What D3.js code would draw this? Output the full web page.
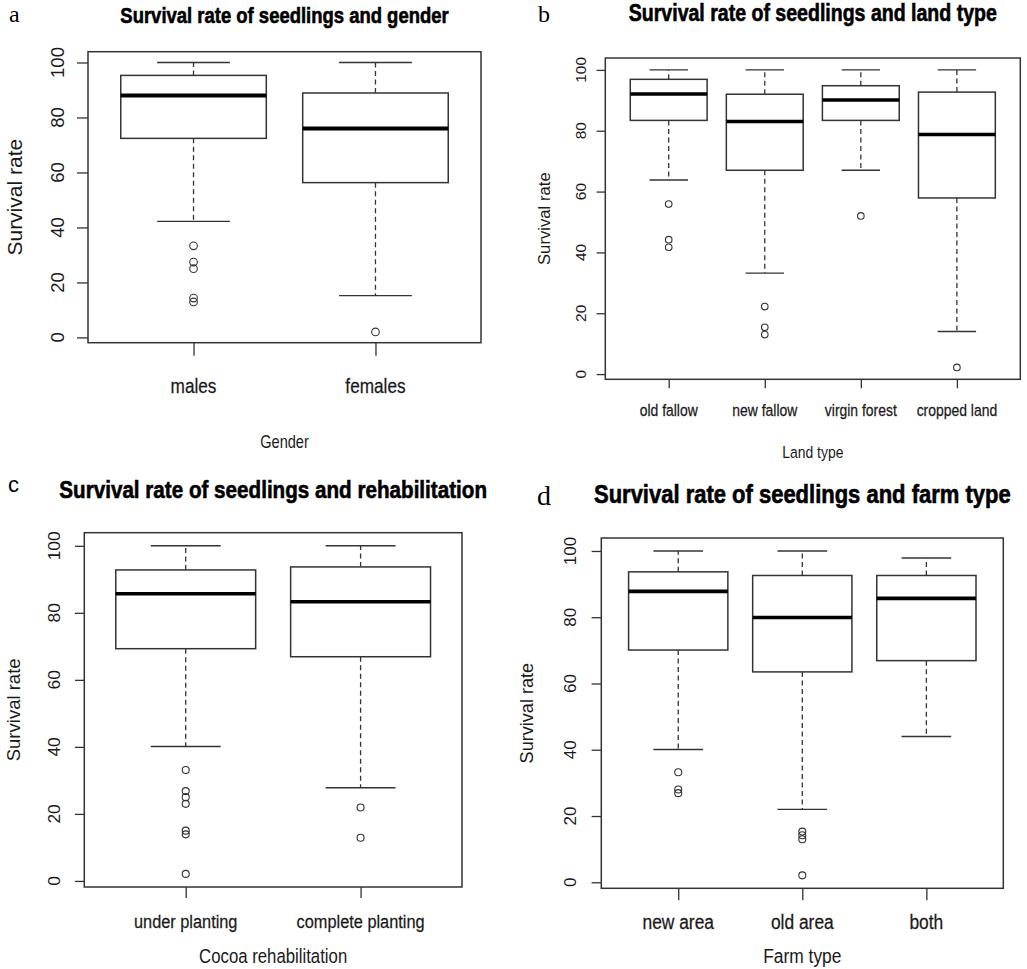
<!DOCTYPE html>
<html>
<head>
<meta charset="utf-8">
<script src="https://cdn.jsdelivr.net/npm/d3@7"></script>
<style>
  body { margin: 0; background: #fff; }
  svg { display: block; }
  text { font-family: "Liberation Sans", Arial, sans-serif; fill: #1a1a1a; }
</style>
</head>
<body>
<div id="chart"></div>
<script>
// box stats per group: [lower whisker, Q1, median, Q3, upper whisker]
const genderCats = ["males", "females"];
const genderStats = [[42.2, 72.4, 88, 95.3, 100], [15.2, 56.3, 76, 88.9, 100]];
const genderOutliers = [[33.3, 27.4, 25, 14.3, 12.9], [2]];

const landCats = ["old fallow", "new fallow", "virgin forest", "cropped land"];
const landStats = [
  [63.8, 83.4, 92.1, 96.9, 100],
  [33.2, 67, 83, 92, 100],
  [67, 83.4, 90.1, 94.8, 100],
  [14, 57.9, 78.8, 92.7, 100]
];
const landOutliers = [[55.9, 44.2, 41.7], [22.2, 15.4, 13], [52], [2.2]];

const rehabCats = ["under planting", "complete planting"];
const rehabStats = [[40.1, 69.3, 85.7, 92.8, 100], [27.8, 66.9, 83.3, 93.7, 100]];
const rehabOutliers = [[33.1, 26.8, 25, 23, 15, 13.9, 2.1], [21.9, 12.9]];

const farmCats = ["new area", "old area", "both"];
const farmStats = [
  [40.1, 70.1, 87.8, 93.7, 100],
  [22, 63.5, 79.9, 92.6, 100],
  [44, 66.9, 85.7, 92.6, 97.9]
];
const farmOutliers = [[33.2, 28, 26.9], [15.3, 14.2, 13, 2.1], []];

const yTicks = [0, 20, 40, 60, 80, 100];

// layout of the four panels
const panels = [
  {
    letter: "a", letterPos: [9, 22], letterSize: 24, letterFont: "Liberation Serif",
    title: "Survival rate of seedlings and gender", titleY: 22.5, titleSize: 22, titleSx: 0.84,
    xTitle: "Gender", xTitleY: 448, xTitleSize: 18, xTitleSx: 0.81,
    cats: genderCats, stats: genderStats, outliers: genderOutliers,
    frame: { x0: 88, x1: 481, y0: 51.7, y1: 342.7 },
    yTickLen: 11, xTickLen: 13, yLabX: 63.5, yLabSize: 18.5,
    yTitleX: 21.7, yTitleSize: 21, xLabY: 393, xLabSize: 21, xLabSx: 0.82,
    r: 3.8, medW: 4
  },
  {
    letter: "b", letterPos: [538, 22], letterSize: 24, letterFont: "Liberation Serif",
    title: "Survival rate of seedlings and land type", titleY: 20.5, titleSize: 23, titleSx: 0.85,
    xTitle: "Land type", xTitleY: 458, xTitleSize: 17, xTitleSx: 0.82,
    cats: landCats, stats: landStats, outliers: landOutliers,
    frame: { x0: 605.3, x1: 1020.3, y0: 58, y1: 379.3 },
    yTickLen: 8.7, xTickLen: 9, yLabX: 586, yLabSize: 15.5,
    yTitleX: 550, yTitleSize: 16.7, xLabY: 416, xLabSize: 17, xLabSx: 0.82,
    r: 3.3, medW: 3.5
  },
  {
    letter: "c", letterPos: [8, 492], letterSize: 22, letterFont: "Liberation Sans",
    title: "Survival rate of seedlings and rehabilitation", titleY: 498, titleSize: 24, titleSx: 0.86,
    xTitle: "Cocoa rehabilitation", xTitleY: 962.5, xTitleSize: 19.5, xTitleSx: 0.86,
    cats: rehabCats, stats: rehabStats, outliers: rehabOutliers,
    frame: { x0: 84.3, x1: 462, y0: 532.7, y1: 887 },
    yTickLen: 9.3, xTickLen: 11, yLabX: 60, yLabSize: 17.4,
    yTitleX: 20, yTitleSize: 18.5, xLabY: 928, xLabSize: 19, xLabSx: 0.86,
    r: 3.5, medW: 3.6
  },
  {
    letter: "d", letterPos: [537, 505], letterSize: 28, letterFont: "Liberation Serif",
    title: "Survival rate of seedlings and farm type", titleY: 503, titleSize: 25, titleSx: 0.88,
    xTitle: "Farm type", xTitleY: 962.5, xTitleSize: 20, xTitleSx: 0.87,
    cats: farmCats, stats: farmStats, outliers: farmOutliers,
    frame: { x0: 601.3, x1: 1003.3, y0: 538, y1: 888.3 },
    yTickLen: 9.7, xTickLen: 12, yLabX: 576, yLabSize: 17,
    yTitleX: 533, yTitleSize: 18.1, xLabY: 929, xLabSize: 20, xLabSx: 0.87,
    r: 3.5, medW: 3.6
  }
];

const lineColor = "#333";

const svg = d3.select("#chart")
  .append("svg")
  .attr("width", 1027)
  .attr("height", 969);

svg.append("rect")
  .attr("width", 1027)
  .attr("height", 969)
  .attr("fill", "#fff");

// horizontal text, squeezed sideways like the source
function hText(g, x, y, str, size, sx) {
  return g.append("text")
    .attr("transform", `translate(${x},${y}) scale(${sx},1)`)
    .attr("text-anchor", "middle")
    .style("font-size", size + "px")
    .text(str);
}

function vText(g, x, y, str, size) {
  return g.append("text")
    .attr("transform", `translate(${x},${y}) rotate(-90)`)
    .attr("text-anchor", "middle")
    .style("font-size", size + "px")
    .text(str);
}

function drawPanel(p) {
  const g = svg.append("g");
  const n = p.cats.length;
  const f = p.frame;

  // R style ranges: 4% extension on both axes
  const x = d3.scaleLinear()
    .domain([0.5 - 0.04 * n, n + 0.5 + 0.04 * n])
    .range([f.x0, f.x1]);

  const lo = d3.min(p.stats.map((s, i) => d3.min([s[0], ...p.outliers[i]])));
  const hi = d3.max(p.stats, s => s[4]);
  const pad = 0.04 * (hi - lo);
  const y = d3.scaleLinear()
    .domain([lo - pad, hi + pad])
    .range([f.y1, f.y0]);

  // axes (ticks only, labels added by hand below)
  const yAxis = g.append("g")
    .attr("transform", `translate(${f.x0},0)`)
    .call(d3.axisLeft(y).tickValues(yTicks).tickSize(p.yTickLen).tickFormat(""));
  yAxis.select(".domain").remove();
  yAxis.selectAll("line").attr("stroke", lineColor).attr("stroke-width", 1.3);

  const xAxis = g.append("g")
    .attr("transform", `translate(0,${f.y1})`)
    .call(d3.axisBottom(x).tickValues(d3.range(1, n + 1)).tickSize(p.xTickLen).tickFormat(""));
  xAxis.select(".domain").remove();
  xAxis.selectAll("line").attr("stroke", lineColor).attr("stroke-width", 1.3);

  yTicks.forEach(t => vText(g, p.yLabX, y(t), t, p.yLabSize));
  p.cats.forEach((c, i) => {
    hText(g, x(i + 1), p.xLabY, c, p.xLabSize, p.xLabSx)
      .attr("stroke", "#1a1a1a")
      .attr("stroke-width", 0.25);
  });

  // boxes
  const grp = g.selectAll(".grp")
    .data(p.stats)
    .enter()
    .append("g")
    .attr("class", "grp");

  // dashed whiskers
  grp.append("line")
    .attr("x1", (d, i) => x(i + 1)).attr("x2", (d, i) => x(i + 1))
    .attr("y1", d => y(d[3])).attr("y2", d => y(d[4]));
  grp.append("line")
    .attr("x1", (d, i) => x(i + 1)).attr("x2", (d, i) => x(i + 1))
    .attr("y1", d => y(d[1])).attr("y2", d => y(d[0]));
  grp.selectAll("line")
    .attr("stroke", lineColor)
    .attr("stroke-width", 1.3)
    .attr("stroke-dasharray", "5,3.5");

  // whisker caps
  grp.append("line")
    .attr("x1", (d, i) => x(i + 0.8)).attr("x2", (d, i) => x(i + 1.2))
    .attr("y1", d => y(d[4])).attr("y2", d => y(d[4]))
    .attr("stroke", lineColor).attr("stroke-width", 1.4);
  grp.append("line")
    .attr("x1", (d, i) => x(i + 0.8)).attr("x2", (d, i) => x(i + 1.2))
    .attr("y1", d => y(d[0])).attr("y2", d => y(d[0]))
    .attr("stroke", lineColor).attr("stroke-width", 1.4);

  // box
  grp.append("rect")
    .attr("x", (d, i) => x(i + 0.6))
    .attr("width", (d, i) => x(i + 1.4) - x(i + 0.6))
    .attr("y", d => y(d[3]))
    .attr("height", d => y(d[1]) - y(d[3]))
    .attr("fill", "#fff")
    .attr("stroke", lineColor)
    .attr("stroke-width", 1.5);

  // median
  grp.append("line")
    .attr("x1", (d, i) => x(i + 0.6)).attr("x2", (d, i) => x(i + 1.4))
    .attr("y1", d => y(d[2])).attr("y2", d => y(d[2]))
    .attr("stroke", "#000")
    .attr("stroke-width", p.medW);

  // outliers
  p.outliers.forEach((vals, i) => {
    g.selectAll(null)
      .data(vals)
      .enter()
      .append("circle")
      .attr("cx", x(i + 1))
      .attr("cy", d => y(d))
      .attr("r", p.r)
      .attr("fill", "none")
      .attr("stroke", lineColor)
      .attr("stroke-width", 1.1);
  });

  // frame
  g.append("rect")
    .attr("x", f.x0).attr("y", f.y0)
    .attr("width", f.x1 - f.x0).attr("height", f.y1 - f.y0)
    .attr("fill", "none")
    .attr("stroke", lineColor)
    .attr("stroke-width", 1.5);

  // titles
  const cx = (f.x0 + f.x1) / 2;
  hText(g, cx, p.titleY, p.title, p.titleSize, p.titleSx)
    .style("font-weight", "bold")
    .style("fill", "#000")
    .attr("stroke", "#000")
    .attr("stroke-width", 0.6);
  hText(g, cx, p.xTitleY, p.xTitle, p.xTitleSize, p.xTitleSx);
  vText(g, p.yTitleX, (f.y0 + f.y1) / 2, "Survival rate", p.yTitleSize);

  g.append("text")
    .attr("x", p.letterPos[0])
    .attr("y", p.letterPos[1])
    .style("font-family", p.letterFont)
    .style("font-size", p.letterSize + "px")
    .style("fill", "#000")
    .text(p.letter);
}

panels.forEach(drawPanel);
</script>
</body>
</html>
